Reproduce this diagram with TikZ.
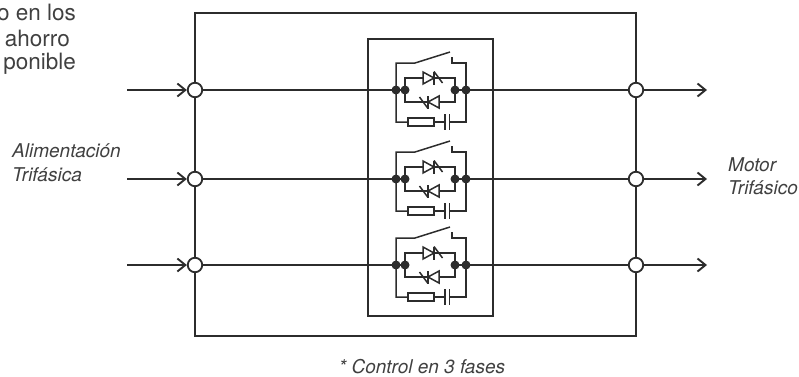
\documentclass[tikz,border=0pt]{standalone}
\usepackage{fontspec}
\setmainfont{TeX Gyre Heros}
\usetikzlibrary{arrows.meta}
\definecolor{ink}{HTML}{2C2C2C}
\definecolor{txt}{HTML}{404040}
\tikzset{
  scr/.pic={
    \draw[thinwire,fill=white] (-5.5,-6) -- (-5.5,6) -- (5.5,0) -- cycle;
    \draw[thinwire] (5.5,-6.5) -- (5.5,6.5);
    \draw[thinwire] (5.5,-6.5) -- (14,5);
  },
  thinwire/.style={draw=ink,line width=1.5pt,line join=miter},
}
\begin{document}
\begin{tikzpicture}[x=1pt,y=-1pt,
  wire/.style={draw=ink,line width=1.9pt},
  term/.style={circle,draw=ink,fill=white,line width=1.8pt,minimum size=14.5pt,inner sep=0pt},
  dot/.style={circle,fill=ink,minimum size=9pt,inner sep=0pt},
  arr/.style={wire,-{Straight Barb[length=8pt,width=13pt]}},
  boxst/.style={draw=ink,line width=1.9pt,inner sep=0pt},
  lbl/.style={text=txt,font=\fontsize{19}{23}\selectfont\itshape,inner sep=0pt},
  toptxt/.style={text=txt,font=\fontsize{22.5}{27}\selectfont,inner sep=0pt}]
\useasboundingbox (0,0) rectangle (799,376);

% top-left paragraph, cut off at the left edge as in the reference
\node[toptxt,anchor=base east] (p1) at (76,20) {o en los};
\node[toptxt,anchor=base east] (p2) at (70,46) {ahorro};
\node[toptxt,anchor=base east] (p3) at (76,69) {ponible};

% labels
\node[lbl,anchor=base west] (al1) at (12,157) {Alimentación};
\node[lbl,anchor=base west] (al2) at (12,181.5) {Trifásica};
\node[lbl,anchor=base west] (mo1) at (728,171) {Motor};
\node[lbl,anchor=base west] (mo2) at (728,194) {Trifásico};
\node[lbl,anchor=base] (note) at (422,373) {* Control en 3 fases};

% boxes
\node[boxst,minimum width=441pt,minimum height=323pt] (outer) at (415.5,174.5) {};
\node[boxst,minimum width=125pt,minimum height=277pt] (inner) at (430.5,177.5) {};

\foreach \i/\y in {1/90,2/179,3/265}{
  \node[term] (L\i) at (195,\y) {};
  \node[term] (R\i) at (636,\y) {};
  \coordinate (in\i) at (127,\y);
  \coordinate (out\i) at (707,\y);
  \begin{scope}[shift={(0,\y)}]
    \coordinate (ja\i) at (405,0);
    \coordinate (jb\i) at (455,0);
    % outer loop with switch, resistor and capacitor
    \draw[thinwire] (408,32) -- (396,32) -- (396,-27) -- (415,-27) -- (450,-38);
    \draw[thinwire] (452,-33) -- (452,-27) -- (466,-27) -- (466,32) -- (449.5,32);
    \draw[thinwire] (408,28) rectangle (434,36);
    \draw[thinwire] (434,32) -- (445,32);
    \draw[thinwire] (445,24) -- (445,40);
    \draw[thinwire] (449.5,24) -- (449.5,40);
    % inner loop with thyristors
    \draw[thinwire] (405,-12) rectangle (455,12);
    \pic at (428.5,-12) {scr};
    \pic[rotate=180] at (433.5,12) {scr};
    \node[dot] (da\i) at (396,0) {};
    \node[dot] (db\i) at (405,0) {};
    \node[dot] (dc\i) at (455,0) {};
    \node[dot] (dd\i) at (466,0) {};
  \end{scope}
  \draw[wire] (L\i) -- (ja\i);
  \draw[wire] (jb\i) -- (R\i);
  \draw[arr] (in\i) -- (L\i);
  \draw[arr] (R\i) -- (out\i);
}
\end{tikzpicture}
\end{document}
